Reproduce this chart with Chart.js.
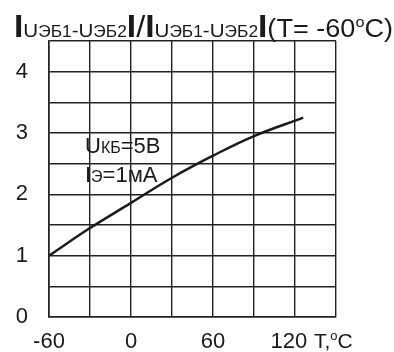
<!DOCTYPE html>
<html>
<head>
<meta charset="utf-8">
<script src="https://cdn.jsdelivr.net/npm/chart.js@4.4.0/dist/chart.umd.min.js"></script>
<style>
  html, body { margin: 0; padding: 0; background: #fff; }
  #wrap { width: 394px; height: 352px; }
</style>
</head>
<body>
<div id="wrap"><canvas id="chart" width="394" height="352"></canvas></div>
<script>
// Curve: T (°C) -> relative value
const temps = [-60, -30, 0, 30, 60, 90, 126];
const ratio = [1.0, 1.45, 1.86, 2.27, 2.63, 2.95, 3.25];
const xLabels = [-60, 0, 60, 120];
const yLabels = [0, 1, 2, 3, 4];

const ink = '#1a1a1a';
const FONT = '"Liberation Sans", Arial, sans-serif';

// draw a row of text pieces with different sizes, left to right
function drawPieces(ctx, x, y, pieces, targetWidth) {
    let total = 0;
    pieces.forEach(p => {
        ctx.font = (p[3] || '') + ' ' + p[1] + 'px ' + FONT;
        p.w = ctx.measureText(p[0]).width;
        total += p.w;
    });
    const sx = targetWidth ? targetWidth / total : 1;
    ctx.save();
    ctx.translate(x, y);
    ctx.scale(sx, 1);
    let cx = 0;
    pieces.forEach(p => {
        ctx.font = (p[3] || '') + ' ' + p[1] + 'px ' + FONT;
        ctx.fillText(p[0], cx, p[2] || 0);
        cx += p.w;
    });
    ctx.restore();
}

const textPlugin = {
    id: 'texts',
    afterDraw(chart) {
        const ctx = chart.ctx;
        ctx.save();
        ctx.fillStyle = ink;
        ctx.textBaseline = 'alphabetic';
        ctx.textAlign = 'left';
        // title
        drawPieces(ctx, 14, 37, [
            ['I', 31, 0, 'bold'], ['U', 19], ['ЭБ1', 16], ['-', 19], ['U', 19], ['ЭБ2', 16],
            ['I', 31, 0, 'bold'], ['/', 30], ['I', 31, 0, 'bold'],
            ['U', 19], ['ЭБ1', 16], ['-', 19], ['U', 19], ['ЭБ2', 16],
            ['I', 31, 0, 'bold'], ['(T= -60', 25], ['o', 15, -10], ['C)', 25]
        ], 379);
        // conditions
        drawPieces(ctx, 85, 153, [['U', 22], ['КБ', 16], ['=5В', 22]]);
        drawPieces(ctx, 85, 182, [['I', 22], ['Э', 16], ['=1мА', 22]]);
        // x axis unit
        drawPieces(ctx, 314, 348, [['T,', 21], ['o', 13, -8], ['C', 21]]);
        ctx.restore();
    }
};

new Chart(document.getElementById('chart'), {
    type: 'line',
    data: {
        datasets: [{
            data: temps.map((t, i) => ({ x: t, y: ratio[i] })),
            borderColor: ink,
            borderWidth: 2.5,
            pointRadius: 0,
            tension: 0.4,
            fill: false
        }]
    },
    options: {
        responsive: false,
        animation: false,
        layout: { padding: { top: 41, right: 58, left: 0, bottom: 0 } },
        plugins: { legend: { display: false }, tooltip: { enabled: false } },
        scales: {
            x: {
                type: 'linear',
                min: -60,
                max: 150,
                afterFit: (axis) => { axis.height = 35; },
                grid: { color: '#222', lineWidth: 1.4, drawTicks: false },
                border: { color: '#222', width: 1.6 },
                ticks: {
                    stepSize: 30,
                    autoSkip: false,
                    maxRotation: 0,
                    padding: 12,
                    color: ink,
                    font: { family: FONT, size: 22 },
                    // last label sits a little left of its grid line, as in the picture
                    callback: (v) => v === 120 ? '120  ' : (xLabels.includes(v) ? String(v) : '')
                }
            },
            y: {
                min: 0,
                max: 4.5,
                afterFit: (axis) => { axis.width = 49; },
                grid: { color: '#222', lineWidth: 1.4, drawTicks: false },
                border: { color: '#222', width: 1.6 },
                ticks: {
                    stepSize: 0.5,
                    autoSkip: false,
                    padding: 21,
                    color: ink,
                    font: { family: FONT, size: 22 },
                    callback: (v) => yLabels.includes(v) ? String(v) : ''
                }
            }
        }
    },
    plugins: [textPlugin]
});
</script>
</body>
</html>
